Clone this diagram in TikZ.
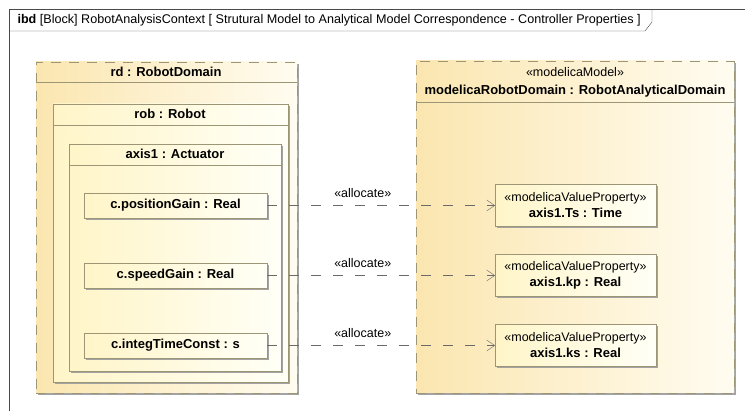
\documentclass[tikz,border=0pt]{standalone}
\usepackage{fontspec}
\setmainfont{Liberation Sans}
\usepackage{xcolor}
\definecolor{cFrame}{HTML}{4A4A4A}
\definecolor{cEdge}{HTML}{9C9676}
\definecolor{cOuterA}{HTML}{FBE6B0}
\definecolor{cOuterB}{HTML}{FFFCF0}
\definecolor{cInnerA}{HTML}{FFF5C8}
\definecolor{cInnerB}{HTML}{FFFFF6}
\definecolor{cShadow}{HTML}{A3A3A3}
\definecolor{cLink}{HTML}{6A6A6A}
\usepackage{tikz}
\usetikzlibrary{positioning,arrows.meta,shadows}
\tikzset{
  box-base/.style={inner sep=0pt,outer sep=0pt,anchor=north west,align=center,
    drop shadow={shadow xshift=2pt,shadow yshift=-2pt,fill=cShadow,opacity=1}},
  box-domain/.style={box-base,draw=cEdge,dash pattern=on 10pt off 8pt,
    left color=cOuterA,right color=cOuterB},
  box-part/.style={box-base,draw=cEdge,
    left color=cInnerA,right color=cInnerB},
  box-prop/.style={box-part,font=\fontsize{13}{15}\selectfont\bfseries},
  text-name/.style={font=\fontsize{13}{15}\selectfont\bfseries},
  text-stereo/.style={font=\fontsize{12.5}{15}\selectfont},
  line-sep/.style={draw=cEdge},
  line-frame/.style={draw=cFrame},
  arrow-alloc/.style={-{Straight Barb[length=8pt,width=11pt]},draw=cLink,
    dash pattern=on 10pt off 12pt},
}

\begin{document}
\begin{tikzpicture}[x=1pt,y=-1pt]
  \path[use as bounding box,fill=white] (0,0) rectangle (745,411);
  \clip (0,0) rectangle (745,411);
  % frame
  \node[line-frame,inner sep=0pt,minimum width=760pt,minimum height=430pt,
    anchor=north west] (frame) at (9,9) {};
  \draw[line-frame] (9,31) -- (645,31) -- (652,22) -- (652,9);
  \node[font=\fontsize{12.6}{15}\selectfont,anchor=west] (title) at (14,20)
    {\textbf{ibd} [Block] RobotAnalysisContext [ Strutural Model to Analytical Model Correspondence - Controller Properties ]};
  % structural side
  \node[box-domain,minimum width=261pt,minimum height=331pt] (rd) at (36,62) {};
  \node[text-name] (rd-name) at (166,72) {rd : RobotDomain};
  \draw[line-sep] ([yshift=-20pt]rd.north west) -- ([yshift=-20pt]rd.north east);
  \node[box-part,minimum width=235pt,minimum height=278pt] (rob) at (53,104) {};
  \node[text-name] (rob-name) at (170,114) {rob : Robot};
  \draw[line-sep] ([yshift=-21pt]rob.north west) -- ([yshift=-21pt]rob.north east);
  \node[box-part,minimum width=212pt,minimum height=227pt] (axis) at (69,144) {};
  \node[text-name] (axis-name) at (175,154) {axis1 : Actuator};
  \draw[line-sep] ([yshift=-21pt]axis.north west) -- ([yshift=-21pt]axis.north east);
  \node[box-prop,minimum width=183pt,minimum height=25pt] (pg) at (84,193) {c.positionGain : Real};
  \node[box-prop,minimum width=183pt,minimum height=25pt] (sg) at (84,263) {c.speedGain : Real};
  \node[box-prop,minimum width=183pt,minimum height=25pt] (it) at (84,333) {c.integTimeConst : s};
  % analytical side
  \node[box-domain,minimum width=318pt,minimum height=332pt] (mrd) at (416,61) {};
  \node[text-stereo] (mrd-st) at (575,72) {«modelicaModel»};
  \node[text-name] (mrd-name) at (575,91) {modelicaRobotDomain : RobotAnalyticalDomain};
  \draw[line-sep] ([yshift=-41pt]mrd.north west) -- ([yshift=-41pt]mrd.north east);
  \node[box-part,minimum width=161pt,minimum height=42pt] (ts) at (495,184.5)
    {\fontsize{12.5}{15}\selectfont«modelicaValueProperty»\\[3pt]\textbf{\fontsize{13}{15}\selectfont axis1.Ts : Time}};
  \node[box-part,minimum width=161pt,minimum height=42pt] (kp) at (495,254.5)
    {\fontsize{12.5}{15}\selectfont«modelicaValueProperty»\\[3pt]\textbf{\fontsize{13}{15}\selectfont axis1.kp : Real}};
  \node[box-part,minimum width=161pt,minimum height=42pt] (ks) at (495,324.5)
    {\fontsize{12.5}{15}\selectfont«modelicaValueProperty»\\[3pt]\textbf{\fontsize{13}{15}\selectfont axis1.ks : Real}};
  % allocations
  \draw[arrow-alloc] (pg) -- node[text-stereo,above=4pt,pos=0.42]{«allocate»} (ts);
  \draw[arrow-alloc] (sg) -- node[text-stereo,above=4pt,pos=0.42]{«allocate»} (kp);
  \draw[arrow-alloc] (it) -- node[text-stereo,above=4pt,pos=0.42]{«allocate»} (ks);
\end{tikzpicture}
\end{document}
